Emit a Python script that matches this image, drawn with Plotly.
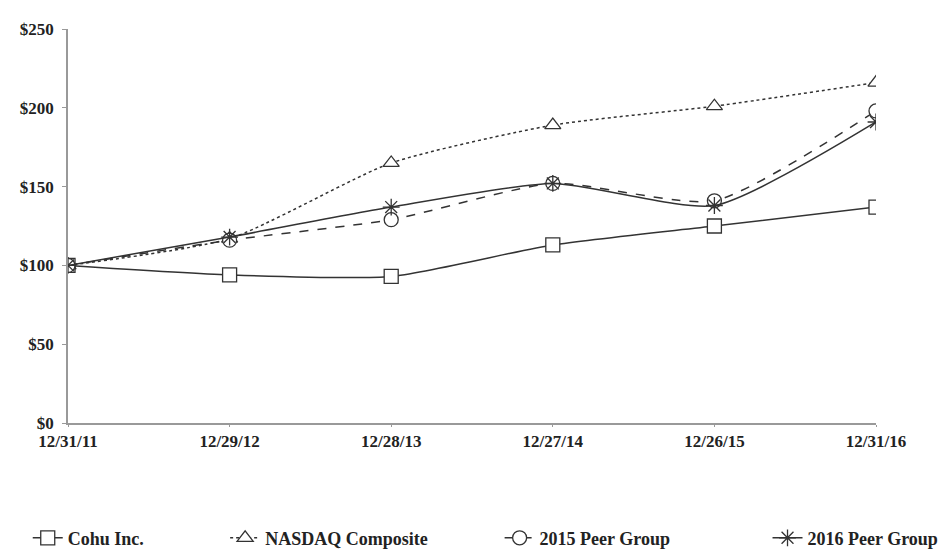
import plotly.graph_objects as go

dates = ["12/31/11", "12/29/12", "12/28/13", "12/27/14", "12/26/15", "12/31/16"]
cohu = [100, 94, 93, 113, 125, 137]
nasdaq = [100, 117, 165, 189, 201, 216]
peer2015 = [100, 116, 129, 152, 141, 198]
peer2016 = [100, 118, 137, 152, 138, 191]

series = [
    ("Cohu Inc.", cohu, "solid", "square", "white", "legend"),
    ("NASDAQ Composite", nasdaq, "dot", "triangle-up", "white", "legend2"),
    ("2015 Peer Group", peer2015, "dash", "circle", "white", "legend3"),
    ("2016 Peer Group", peer2016, "solid", "asterisk-open", "#333333", "legend4"),
]

fig = go.Figure()
for name, vals, dash, sym, fill, lg in series:
    fig.add_trace(go.Scatter(
        x=dates, y=vals, name=name, mode="lines+markers", legend=lg,
        line=dict(color="#333333", width=1.5, dash=dash, shape="spline", smoothing=0.6),
        marker=dict(symbol=sym, size=14, color=fill, line=dict(width=1.3, color="#333333")),
    ))

font = "Liberation Serif"
lfont = dict(family=font, size=18, color="#222222", weight="bold")
def leg(x):
    return dict(orientation="h", xref="container", yref="container",
                x=x, xanchor="left", y=0.022, yanchor="middle",
                font=lfont, bgcolor="rgba(0,0,0,0)", borderwidth=0)

# page body adds an 8px offset; figure sized/margined to land the plot at the reference spot
fig.update_layout(
    width=940, height=542,
    paper_bgcolor="white", plot_bgcolor="white",
    margin=dict(l=60, r=72, t=15, b=127),
    font=dict(family=font, size=16, color="#222222"),
    showlegend=True,
    legend=leg(0.021), legend2=leg(0.231), legend3=leg(0.523), legend4=leg(0.808),
)
fig.update_xaxes(
    type="category", range=[0, 5], showgrid=False, zeroline=False,
    showline=True, linecolor="#999999", linewidth=1.5,
    ticks="outside", ticklen=2, tickcolor="#999999",
    tickfont=dict(family=font, size=17, weight="bold"),
)
fig.update_yaxes(
    range=[0, 250], dtick=50, tickprefix="$", showgrid=False, zeroline=False,
    showline=True, linecolor="#999999", linewidth=1.5,
    ticks="outside", ticklen=4, tickcolor="#999999", ticklabelstandoff=5,
    tickfont=dict(family=font, size=17, weight="bold"),
)
fig.write_html("out.html")
